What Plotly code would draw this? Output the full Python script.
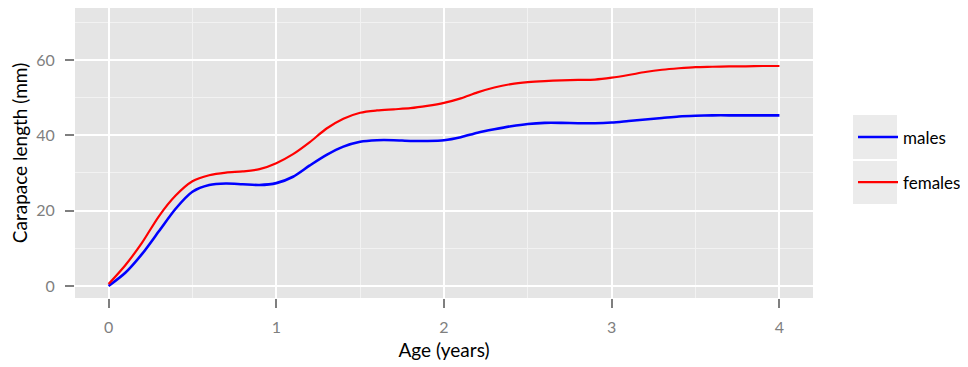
import plotly.graph_objects as go

age = [0.0, 0.1, 0.2, 0.3, 0.4, 0.5, 0.6, 0.7, 0.8, 0.9,
       1.0, 1.1, 1.2, 1.3, 1.4, 1.5, 1.6, 1.7, 1.8, 1.9,
       2.0, 2.1, 2.2, 2.3, 2.4, 2.5, 2.6, 2.7, 2.8, 2.9,
       3.0, 3.1, 3.2, 3.3, 3.4, 3.5, 3.6, 3.7, 3.8, 3.9, 4.0]

males = [0.0, 3.5, 8.5, 14.5, 20.5, 25.0, 26.8, 27.2, 27.0, 26.8,
         27.3, 29.0, 32.0, 34.8, 37.0, 38.3, 38.7, 38.7, 38.5, 38.5,
         38.7, 39.5, 40.7, 41.6, 42.4, 43.0, 43.3, 43.3, 43.2, 43.2,
         43.4, 43.8, 44.2, 44.6, 45.0, 45.2, 45.3, 45.3, 45.3, 45.3, 45.3]

females = [0.5, 5.5, 11.5, 18.5, 24.0, 27.8, 29.4, 30.1, 30.4, 31.0,
           32.6, 35.0, 38.2, 41.8, 44.4, 46.0, 46.6, 46.9, 47.2, 47.8,
           48.6, 49.8, 51.4, 52.7, 53.6, 54.1, 54.4, 54.6, 54.7, 54.8,
           55.3, 56.0, 56.8, 57.4, 57.8, 58.1, 58.2, 58.3, 58.3, 58.4, 58.4]

x_ticks = [0, 1, 2, 3, 4]
y_ticks = [0, 20, 40, 60]

FONT = "Lato"

# page body has an 8px margin, so figure coords = page coords - 8
PL, PR, PT, PB = 67, 805, 0, 290
W, H = 960, 359

def px_x(p):
    return (p - 8 - PL) / (PR - PL)

def px_y(p):
    return (PB - (p - 8)) / (PB - PT)

fig = go.Figure()
fig.add_trace(go.Scatter(x=age, y=males, mode="lines", name="males",
                         legendgroup="m",
                         line=dict(color="#0000FF", width=2.6, shape="spline", smoothing=0.8)))
fig.add_trace(go.Scatter(x=age, y=females, mode="lines", name="females",
                         legendgroup="f",
                         line=dict(color="#FF0000", width=2.2, shape="spline", smoothing=0.8)))

# legend key backgrounds (ggplot style)
fig.add_shape(type="rect", xref="paper", yref="paper",
              x0=px_x(853), x1=px_x(897), y0=px_y(159), y1=px_y(115),
              fillcolor="#EBEBEB", line=dict(width=0), layer="below")
fig.add_shape(type="rect", xref="paper", yref="paper",
              x0=px_x(853), x1=px_x(897), y0=px_y(204), y1=px_y(161),
              fillcolor="#EBEBEB", line=dict(width=0), layer="below")

fig.update_layout(
    width=W, height=H,
    margin=dict(l=PL, r=W - PR, t=PT, b=H - PB, autoexpand=False),
    paper_bgcolor="white",
    plot_bgcolor="#E5E5E5",
    font=dict(family=FONT, size=16, color="black"),
    legend=dict(x=px_x(853), xanchor="left", y=px_y(160), yanchor="middle",
                bgcolor="rgba(0,0,0,0)", font=dict(size=17, color="black"),
                tracegroupgap=20, itemwidth=40),
    showlegend=True,
)

fig.update_xaxes(
    range=[-0.2, 4.2], automargin=False,
    tickvals=x_ticks, ticktext=[str(v) for v in x_ticks],
    showgrid=True, gridcolor="white", gridwidth=2,
    minor=dict(dtick=0.5, tick0=0, showgrid=True, gridcolor="#F2F2F2", gridwidth=1),
    zeroline=False, showline=False,
    ticks="outside", ticklen=9, tickwidth=1.5, tickcolor="#7F7F7F",
    ticklabelstandoff=6,
    tickfont=dict(family=FONT, size=16, color="#7F7F7F"),
    title=dict(text="Age (years)", font=dict(family=FONT, size=19, color="black"), standoff=8),
)
fig.update_yaxes(
    range=[-3.2, 73.8], automargin=False,
    tickvals=y_ticks, ticktext=[str(v) for v in y_ticks],
    showgrid=True, gridcolor="white", gridwidth=2,
    minor=dict(dtick=10, tick0=0, showgrid=True, gridcolor="#F2F2F2", gridwidth=1),
    zeroline=False, showline=False,
    ticks="outside", ticklen=9, tickwidth=1.5, tickcolor="#7F7F7F",
    ticklabelstandoff=7,
    tickfont=dict(family=FONT, size=16, color="#7F7F7F"),
    title=dict(text="Carapace length (mm)", font=dict(family=FONT, size=19, color="black"), standoff=8),
)

fig.write_html("out.html")
